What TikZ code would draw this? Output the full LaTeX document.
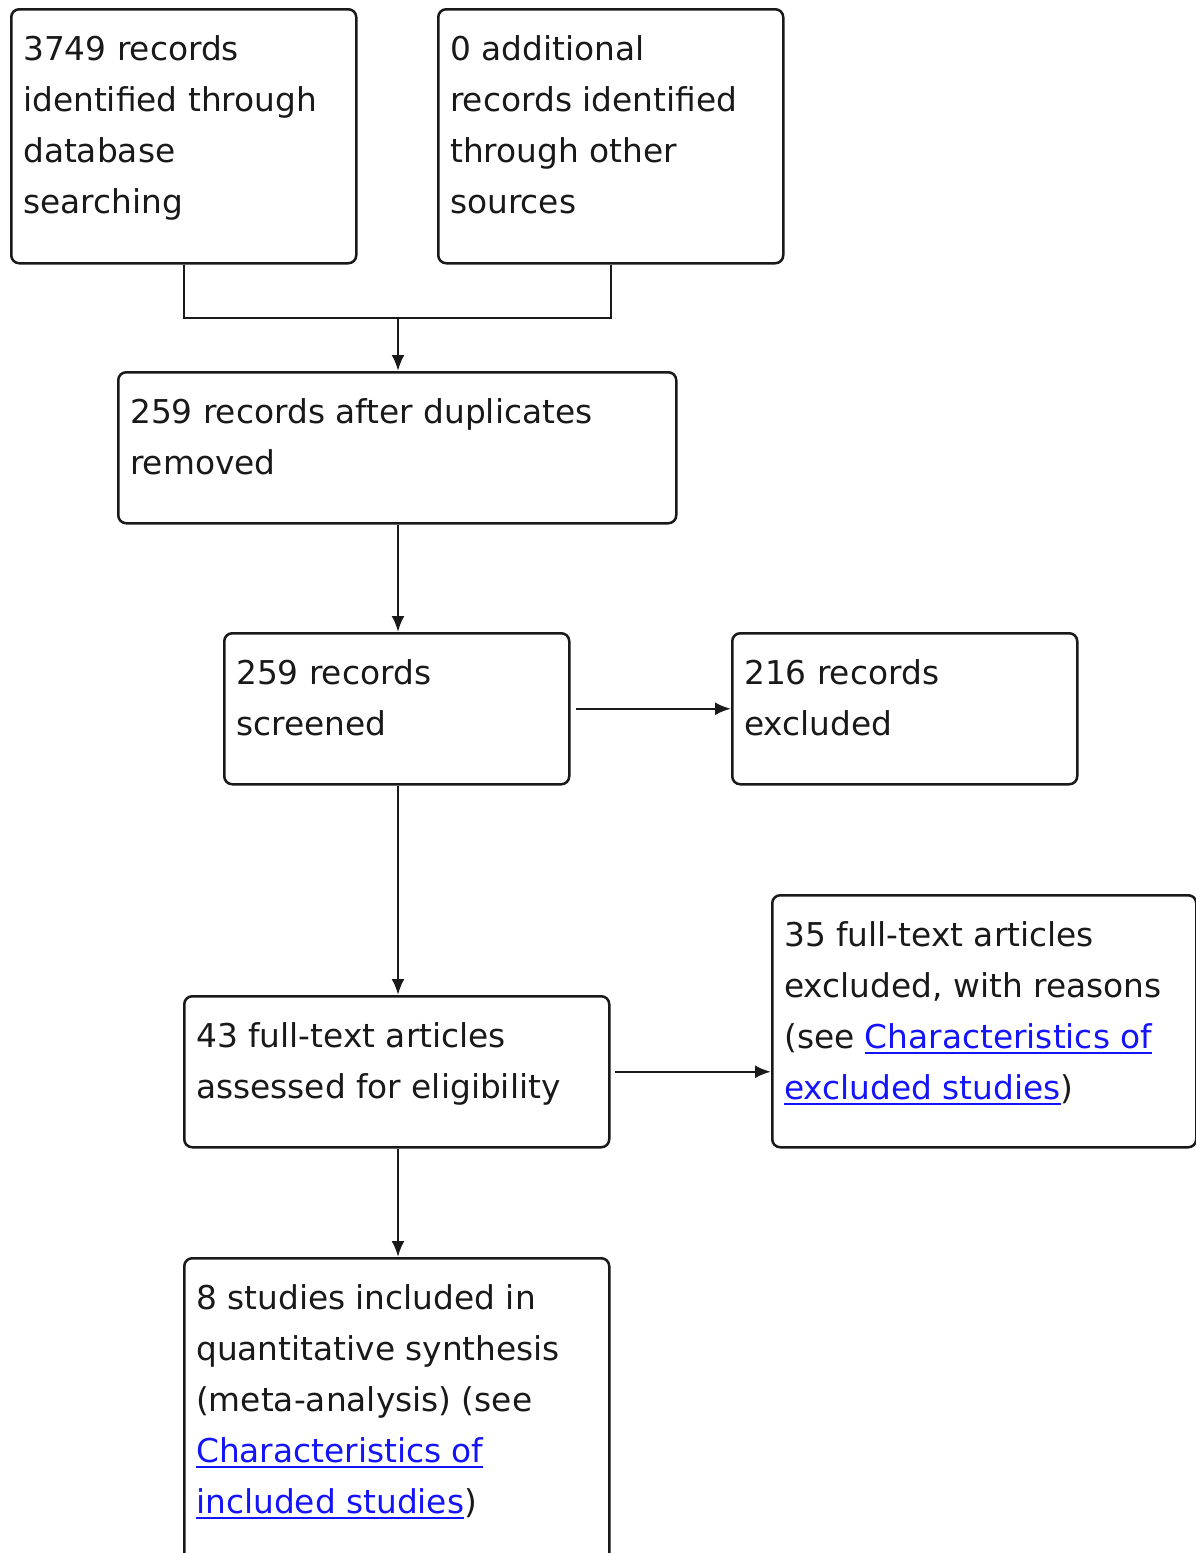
\documentclass[tikz,border=0pt]{standalone}
\usepackage{fontspec}
\setmainfont{DejaVu Sans}
\usetikzlibrary{arrows.meta}
\definecolor{linkblue}{RGB}{20,20,250}
\definecolor{inkc}{RGB}{25,25,25}
\newcommand\lnk[1]{\textcolor{linkblue}{\setbox0\hbox{#1}\rlap{\rule[-6pt]{\wd0}{1.8pt}}\box0}}
\begin{document}
\begin{tikzpicture}[x=1pt,y=-1pt,
  box/.style={draw=inkc,line width=2.5pt,rounded corners=8pt,inner sep=0pt,anchor=north west},
  txt/.style={anchor=base west,inner sep=0pt,align=left,text=inkc,font=\fontsize{32.8}{51}\selectfont},
  arr/.style={draw=inkc,line width=2.5pt,-{Latex[length=16pt,width=13pt]}},
  ln/.style={draw=inkc,line width=2.5pt}]
\useasboundingbox (0,0) rectangle (1196,1553);
\clip (0,0) rectangle (1196,1553);
% boxes
\node[box,minimum width=345pt,minimum height=254pt] (b1) at (10,8) {};
\node[box,minimum width=345pt,minimum height=254pt] (b2) at (437,8) {};
\node[box,minimum width=558pt,minimum height=151pt] (b3) at (117,371) {};
\node[box,minimum width=345pt,minimum height=151pt] (b4) at (223,632) {};
\node[box,minimum width=345pt,minimum height=151pt] (b5) at (731,632) {};
\node[box,minimum width=425pt,minimum height=151pt] (b6) at (183,995) {};
\node[box,minimum width=424pt,minimum height=252pt] (b7) at (771,894) {};
\node[box,minimum width=425pt,minimum height=400pt] (b8) at (183,1257) {};
% texts (anchored at the baseline of their last line)
\node[txt] (t1) at (23,213) {3749 records\\identified through\\database\\searching};
\node[txt] (t2) at (450,213) {0 additional\\records identified\\through other\\sources};
\node[txt] (t3) at (130,474) {259 records after duplicates\\removed};
\node[txt] (t4) at (236,735) {259 records\\screened};
\node[txt] (t5) at (744,735) {216 records\\excluded};
\node[txt] (t6) at (196,1098) {43 full-text articles\\assessed for eligibility};
\node[txt] (t7) at (784,1099) {35 full-text articles\\excluded, with reasons\\(see \lnk{Characteristics of}\\\lnk{excluded studies})};
\node[txt] (t8) at (196,1513) {8 studies included in\\quantitative synthesis\\(meta-analysis) (see\\\lnk{Characteristics of}\\\lnk{included studies})};
% connectors
\coordinate (j) at (398,318);
\draw[ln] (b1.south) |- (j);
\draw[ln] (b2.south) |- (j);
\draw[arr] (j) -- (j |- b3.north);
\draw[arr] (b3.south -| j) -- (b4.north -| j);
\draw[arr] ([xshift=5pt]b4.east) -- (b4.east -| b5.west);
\draw[arr] (b4.south -| j) -- (b6.north -| j);
\draw[arr] ([xshift=4pt]b6.east) -- (b6.east -| b7.west);
\draw[arr] (b6.south -| j) -- (b8.north -| j);
\end{tikzpicture}
\end{document}
